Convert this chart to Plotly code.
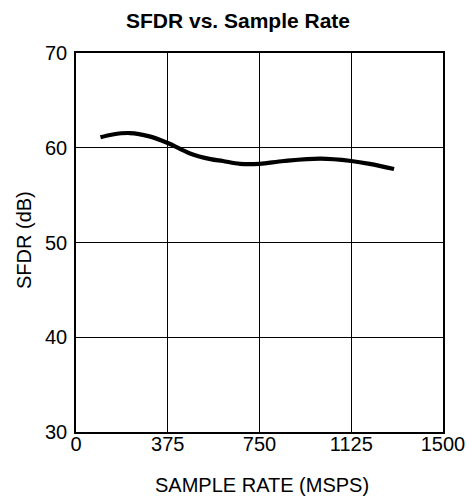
import plotly.graph_objects as go

sample_rate = [100, 150, 220, 300, 375, 466, 550, 600, 670, 750, 850, 1000, 1125, 1200, 1300]
sfdr = [61.1, 61.4, 61.55, 61.2, 60.5, 59.4, 58.8, 58.6, 58.3, 58.3, 58.6, 58.85, 58.6, 58.3, 57.75]

x_ticks = [0, 375, 750, 1125, 1500]
y_ticks = [30, 40, 50, 60, 70]

font = "Liberation Sans, Arial, sans-serif"

L, R, T, B = 76, 25, 53, 70
W, H = 468, 502
pw, ph = W - L - R, H - T - B

fig = go.Figure()
fig.add_trace(go.Scatter(x=sample_rate, y=sfdr, mode="lines",
                         line=dict(color="black", width=4.2, shape="spline", smoothing=1.0),
                         showlegend=False, hoverinfo="skip"))

fig.update_layout(
    width=W, height=H,
    margin=dict(l=L, r=R, t=T, b=B, autoexpand=False),
    paper_bgcolor="white", plot_bgcolor="white",
    title=dict(text="<b>SFDR vs. Sample Rate</b>", x=238/W, xref="container", xanchor="center",
               y=1-21/H, yref="container", yanchor="middle",
               font=dict(family=font, size=21, color="black")),
    font=dict(family=font, size=20, color="black"),
    annotations=[
        dict(text="SAMPLE RATE (MSPS)", xref="paper", yref="paper",
             x=(262 - L) / pw, y=-(485 - (T + ph)) / ph, xanchor="center", yanchor="middle",
             showarrow=False, font=dict(family=font, size=20, color="black")),
        dict(text="SFDR (dB)", xref="paper", yref="paper", textangle=-90,
             x=-(L - 24) / pw, y=1 - (240 - T) / ph, xanchor="center", yanchor="middle",
             showarrow=False, font=dict(family=font, size=20, color="black")),
    ],
)
fig.update_xaxes(range=[0, 1500], tickvals=x_ticks, ticktext=[str(v) for v in x_ticks],
                 showgrid=True, gridcolor="black", gridwidth=1,
                 showline=True, linecolor="black", linewidth=1.5, mirror=True,
                 ticks="", zeroline=False, automargin=False, ticklabelstandoff=-7,
                 tickfont=dict(size=20))
fig.update_yaxes(range=[30, 70], tickvals=y_ticks, ticktext=[str(v) for v in y_ticks],
                 showgrid=True, gridcolor="black", gridwidth=1,
                 showline=True, linecolor="black", linewidth=1.5, mirror=True,
                 ticks="", zeroline=False, automargin=False, ticklabelstandoff=3,
                 tickfont=dict(size=20))

fig.write_html("out.html", config={"displayModeBar": False},
               post_script="document.body.style.margin='0';")
